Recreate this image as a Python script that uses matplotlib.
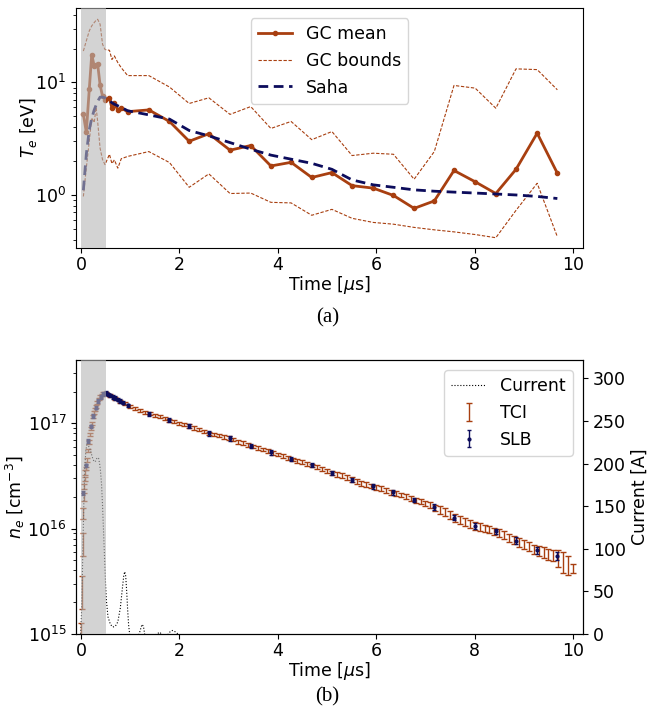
import numpy as np
import matplotlib
matplotlib.use('Agg')
matplotlib.rcParams.update({'font.size': 12.5, 'xtick.major.pad': 2.5})
import matplotlib.pyplot as plt

# --- (a) electron temperature ---
gc_t = [0.05, 0.11, 0.17, 0.22, 0.27, 0.31, 0.34, 0.39, 0.44, 0.49, 0.58, 0.63,
        0.68, 0.75, 0.82, 0.95, 1.38, 1.80, 2.20, 2.60, 3.03, 3.45, 3.86, 4.27,
        4.69, 5.10, 5.51, 5.94, 6.35, 6.77, 7.18, 7.58, 8.01, 8.43, 8.84, 9.27, 9.68]
gc_mean = [5.2, 3.6, 8.7, 17.7, 14.0, 14.3, 14.6, 9.5, 7.5, 7.0, 7.3, 5.9,
           6.5, 5.7, 5.9, 5.5, 5.7, 4.5, 3.0, 3.5, 2.5, 2.75, 1.81, 1.95,
           1.43, 1.58, 1.21, 1.15, 0.99, 0.76, 0.885, 1.65, 1.31, 1.03, 1.69, 3.54, 1.56]
gc_upper = [19.0, 23.4, 28.7, 31.8, 34.0, 35.7, 36.4, 32.9, 21.8, 19.6, 19.3, 16.0,
            17.2, 15.0, 13.5, 11.5, 11.5, 9.1, 6.5, 7.3, 5.2, 6.1, 3.9, 4.5,
            3.1, 3.66, 2.24, 2.35, 2.3, 1.38, 2.43, 9.4, 8.9, 5.9, 13.2, 13.0, 8.6]
gc_lower = [0.97, 1.74, 3.0, 4.85, 4.4, 6.0, 4.5, 2.6, 2.06, 1.86, 2.3, 1.9,
            2.05, 1.73, 2.1, 2.2, 2.43, 1.94, 1.17, 1.54, 1.03, 1.04, 0.86, 0.85,
            0.66, 0.745, 0.62, 0.57, 0.55, 0.515, 0.49, 0.47, 0.445, 0.417, 0.73, 1.27, 0.425]
saha = [1.1, 2.3, 3.8, 4.8, 5.7, 6.3, 6.8, 7.4, 7.4, 7.3, 6.9, 6.6,
        6.4, 6.2, 6.0, 5.6, 5.15, 4.72, 3.74, 3.35, 2.92, 2.55, 2.26, 2.08,
        1.91, 1.69, 1.36, 1.23, 1.17, 1.11, 1.08, 1.06, 1.04, 1.02, 1.0, 0.97, 0.93]

# --- (b) electron density [1e16 cm^-3] and current [A] ---
tci_t = [0.01, 0.03, 0.04, 0.05, 0.06, 0.07, 0.08, 0.09, 0.10, 0.12, 0.14, 0.16,
         0.18, 0.20, 0.22, 0.24, 0.26, 0.28, 0.30, 0.33, 0.36, 0.39, 0.42, 0.45, 0.48,
         0.5, 0.6, 0.7, 0.8, 0.9, 1.0, 1.1, 1.2, 1.3, 1.4, 1.5, 1.6, 1.7, 1.8, 1.9,
         2.0, 2.1, 2.2, 2.3, 2.4, 2.5, 2.6, 2.7, 2.8, 2.9, 3.0, 3.1, 3.2, 3.3, 3.4,
         3.5, 3.6, 3.7, 3.8, 3.9, 4.0, 4.1, 4.2, 4.3, 4.4, 4.5, 4.6, 4.7, 4.8, 4.9,
         5.0, 5.1, 5.2, 5.3, 5.4, 5.5, 5.6, 5.7, 5.8, 5.9, 6.0, 6.1, 6.2, 6.3, 6.4,
         6.5, 6.6, 6.7, 6.8, 6.9, 7.0, 7.1, 7.2, 7.3, 7.4, 7.5, 7.6, 7.7, 7.8, 7.9,
         8.0, 8.1, 8.2, 8.3, 8.4, 8.5, 8.6, 8.7, 8.8, 8.9, 9.0, 9.1, 9.2, 9.3, 9.4,
         9.5, 9.6, 9.7, 9.8, 9.9, 10.0]
tci_ne = [0.105, 0.263, 0.724, 1.41, 2.0, 2.51, 2.95, 3.39, 3.72, 4.47, 5.5, 6.61,
          7.76, 8.91, 10.0, 11.5, 12.6, 13.5, 14.5, 15.8, 17.0, 18.0, 18.6, 19.05, 19.3,
          19.05, 18.2, 17.2, 16.2, 15.3, 14.5, 13.8, 13.2, 12.7, 12.3, 11.9, 11.5, 11.1, 10.7, 10.35,
          10.0, 9.8, 9.44, 9.0, 8.7, 8.4, 8.04, 7.85, 7.67, 7.41, 7.24, 7.0, 6.68, 6.46, 6.24,
          6.03, 5.82, 5.62, 5.43, 5.25, 5.07, 4.9, 4.68, 4.52, 4.37, 4.27, 4.12, 3.98, 3.85, 3.67,
          3.51, 3.37, 3.27, 3.2, 3.05, 2.92, 2.79, 2.69, 2.63, 2.54, 2.45, 2.4, 2.29, 2.21, 2.16,
          2.09, 2.02, 1.93, 1.86, 1.8, 1.74, 1.68, 1.58, 1.51, 1.45, 1.35, 1.27, 1.22, 1.16, 1.11,
          1.07, 1.035, 1.0, 0.977, 0.944, 0.912, 0.871, 0.822, 0.776, 0.741, 0.708, 0.676, 0.638, 0.617, 0.596,
          0.575, 0.556, 0.531, 0.49, 0.457, 0.417]
tci_rel = [0.2, 0.35, 0.25, 0.12, 0.08, 0.06, 0.05, 0.05, 0.04, 0.04, 0.04, 0.04,
           0.03, 0.03, 0.03, 0.03, 0.03, 0.03, 0.03, 0.03, 0.03, 0.03, 0.03, 0.03, 0.03,
           0.03, 0.03, 0.03, 0.03, 0.03, 0.03, 0.03, 0.03, 0.03, 0.03, 0.03, 0.03, 0.03, 0.03, 0.03,
           0.035, 0.035, 0.035, 0.035, 0.035, 0.035, 0.035, 0.035, 0.035, 0.035, 0.04, 0.04, 0.04, 0.04, 0.04,
           0.04, 0.04, 0.04, 0.04, 0.04, 0.04, 0.04, 0.04, 0.04, 0.04, 0.04, 0.04, 0.04, 0.04, 0.04,
           0.05, 0.05, 0.05, 0.06, 0.05, 0.05, 0.05, 0.05, 0.06, 0.05, 0.05, 0.05, 0.06, 0.06, 0.05,
           0.05, 0.06, 0.06, 0.05, 0.05, 0.05, 0.06, 0.07, 0.09, 0.09, 0.08, 0.09, 0.09, 0.08, 0.08,
           0.09, 0.09, 0.08, 0.08, 0.08, 0.09, 0.08, 0.09, 0.09, 0.09, 0.1, 0.1, 0.1, 0.11, 0.12,
           0.12, 0.12, 0.18, 0.22, 0.2, 0.1]

slb_t = [0.05, 0.10, 0.15, 0.20, 0.25, 0.30, 0.35, 0.40, 0.45, 0.50, 0.55, 0.60,
         0.65, 0.70, 0.75, 0.80, 0.85, 0.95, 1.38, 1.80, 2.20, 2.60, 3.03, 3.45,
         3.86, 4.27, 4.69, 5.10, 5.51, 5.94, 6.35, 6.77, 7.18, 7.58, 8.01, 8.43,
         8.84, 9.27, 9.68]
slb_ne = [2.19, 3.98, 6.76, 9.33, 11.75, 14.1, 16.2, 17.8, 19.05, 19.3, 18.8, 18.4,
          17.8, 17.4, 16.8, 16.2, 15.7, 14.8, 12.3, 10.7, 9.44, 8.04, 7.21, 6.1,
          5.31, 4.57, 4.03, 3.36, 2.9, 2.51, 2.2, 1.87, 1.6, 1.27, 1.06, 0.94,
          0.77, 0.62, 0.55]
slb_rel = [0.04, 0.04, 0.04, 0.04, 0.04, 0.04, 0.04, 0.04, 0.04, 0.04, 0.04, 0.04,
           0.04, 0.04, 0.04, 0.04, 0.04, 0.04, 0.05, 0.05, 0.05, 0.05, 0.05, 0.05,
           0.05, 0.05, 0.05, 0.05, 0.05, 0.05, 0.05, 0.05, 0.06, 0.06, 0.06, 0.06,
           0.07, 0.07, 0.08]

cur_t = [0.0, 0.02, 0.04, 0.06, 0.08, 0.10, 0.12, 0.15, 0.18, 0.21, 0.24, 0.27,
         0.30, 0.33, 0.36, 0.38, 0.40, 0.42, 0.44, 0.46, 0.48, 0.50, 0.52, 0.55,
         0.60, 0.65, 0.70, 0.75, 0.80, 0.84, 0.87, 0.89, 0.91, 0.93, 0.95, 0.97,
         1.00, 1.05, 1.10, 1.15, 1.20, 1.24, 1.27, 1.30, 1.35, 1.45, 1.55, 1.60,
         1.65, 1.75, 1.82, 1.86, 1.90, 1.95, 2.00, 2.10]
cur_a = [0, 40, 100, 155, 195, 215, 222, 221, 218, 212, 206, 202,
         203, 207, 206, 200, 190, 175, 150, 120, 90, 60, 38, 20,
         11, 8, 9, 14, 30, 52, 68, 73, 68, 50, 28, 10,
         -5, -15, -12, -5, 3, 11, 9, -2, -8, -3, 0, 2,
         -1, -2, 3, 4, 3, 1, -2, -1]

orange = '#a83f10'
navy = '#0c0c5c'
span_kw = dict(color='#b6b6b6', alpha=0.6, lw=0, zorder=5)

fig = plt.figure(figsize=(6.55, 7.13), dpi=100)
ax1 = fig.add_axes([0.116, 0.652, 0.774, 0.337])
ax2 = fig.add_axes([0.116, 0.111, 0.774, 0.384])

# top panel
ax1.plot(gc_t, gc_mean, c=orange, lw=2, marker='o', ms=3, label='GC mean')
ax1.plot(gc_t, gc_upper, c=orange, lw=0.8, ls=(0, (3, 1.5)), label='GC bounds')
ax1.plot(gc_t, gc_lower, c=orange, lw=0.8, ls=(0, (3, 1.5)))
ax1.plot(gc_t, saha, c=navy, lw=2, ls=(0, (3.5, 2)), label='Saha')
ax1.axvspan(0, 0.5, **span_kw)
ax1.set_yscale('log')
ax1.set(xlim=(-0.1, 10.2), ylim=(0.337, 46))
ax1.set_xticks([0, 2, 4, 6, 8, 10])
ax1.set_xlabel(r'Time [$\mu$s]', labelpad=0)
ax1.set_ylabel(r'$T_e$ [eV]', labelpad=-3)
ax1.legend(loc='upper center', borderaxespad=0.6)

# bottom panel
tci_ne = np.array(tci_ne) * 1e16
slb_ne = np.array(slb_ne) * 1e16
h_tci = ax2.errorbar(tci_t, tci_ne, yerr=tci_ne * np.array(tci_rel), fmt='none',
                     ecolor=orange, elinewidth=1, capsize=2, label='TCI')
h_slb = ax2.errorbar(slb_t, slb_ne, yerr=slb_ne * np.array(slb_rel), fmt='o', ms=2,
                     color=navy, ecolor=navy, elinewidth=1, capsize=1.5, label='SLB')
ax2.set_yscale('log')
ax2.set(xlim=(-0.1, 10.2), ylim=(1e15, 3.98e17))
ax2.set_xticks([0, 2, 4, 6, 8, 10])
ax2.set_xlabel(r'Time [$\mu$s]', labelpad=0)
ax2.set_ylabel(r'$n_e$ [cm$^{-3}$]', labelpad=0)

ax3 = ax2.twinx()
h_cur, = ax3.plot(cur_t, cur_a, c='k', lw=0.8, ls=':', label='Current')
ax3.axvspan(0, 0.5, **span_kw)
ax3.set_ylim(0, 321.5)
ax3.set_yticks(range(0, 301, 50))
ax3.set_ylabel('Current [A]')
ax3.legend([h_cur, h_tci, h_slb], ['Current', 'TCI', 'SLB'], loc='upper right',
           borderaxespad=0.6)

fig.text(0.5, 0.554, '(a)', ha='center', va='center', family='Liberation Serif', fontsize=15)
fig.text(0.5, 0.022, '(b)', ha='center', va='center', family='Liberation Serif', fontsize=15)

plt.savefig('out.png', dpi=100)
